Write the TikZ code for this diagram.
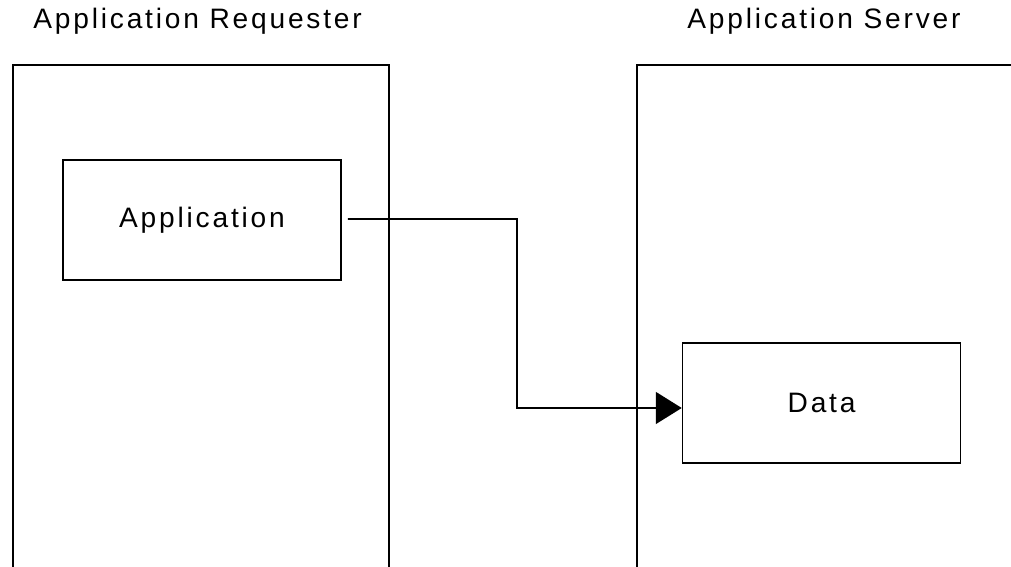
\documentclass[tikz,border=0pt]{standalone}
\usepackage{fontspec}
\usepackage{tikz}
\usetikzlibrary{arrows.meta,positioning,calc}
\newfontfamily\diagfont{Liberation Sans}[LetterSpace=10]
\newcommand{\diagsize}{\diagfont\fontsize{20}{23}\selectfont}

\begin{document}
\begin{tikzpicture}[
  frame/.style={line width=1.2pt},
  unit/.style={draw, line width=1.2pt, minimum width=6.95cm,
    minimum height=3cm, inner sep=0pt, font=\diagsize},
  title/.style={font=\diagsize, anchor=base},
  flow/.style={line width=1.2pt, -{Triangle[length=0.65cm, width=0.8cm]}},
]
\useasboundingbox (0,0) rectangle (25.275,14.175);

% --- Requester side ---
\node[title] (reqtitle) at (4.94,13.45) {Application Requester};
\draw[frame] (0.325,0) -- (0.325,12.55) -- (9.725,12.55) -- (9.725,0);
\node[unit] (app) at (5.05,8.675) {Application};

% --- Server side ---
\node[title] (srvtitle) at (20.6,13.45) {Application Server};
\draw[frame] (15.925,0) -- (15.925,12.55) -- (25.275,12.55);
\node[unit] (data) at (20.54,4.1) {Data};

% Connector
\coordinate (turn) at (12.925,3.975);
\draw[flow] ([shift={(0.15,0.025)}]app.east) -| (turn)
  -- ([yshift=-0.125cm]data.west);
\end{tikzpicture}
\end{document}
